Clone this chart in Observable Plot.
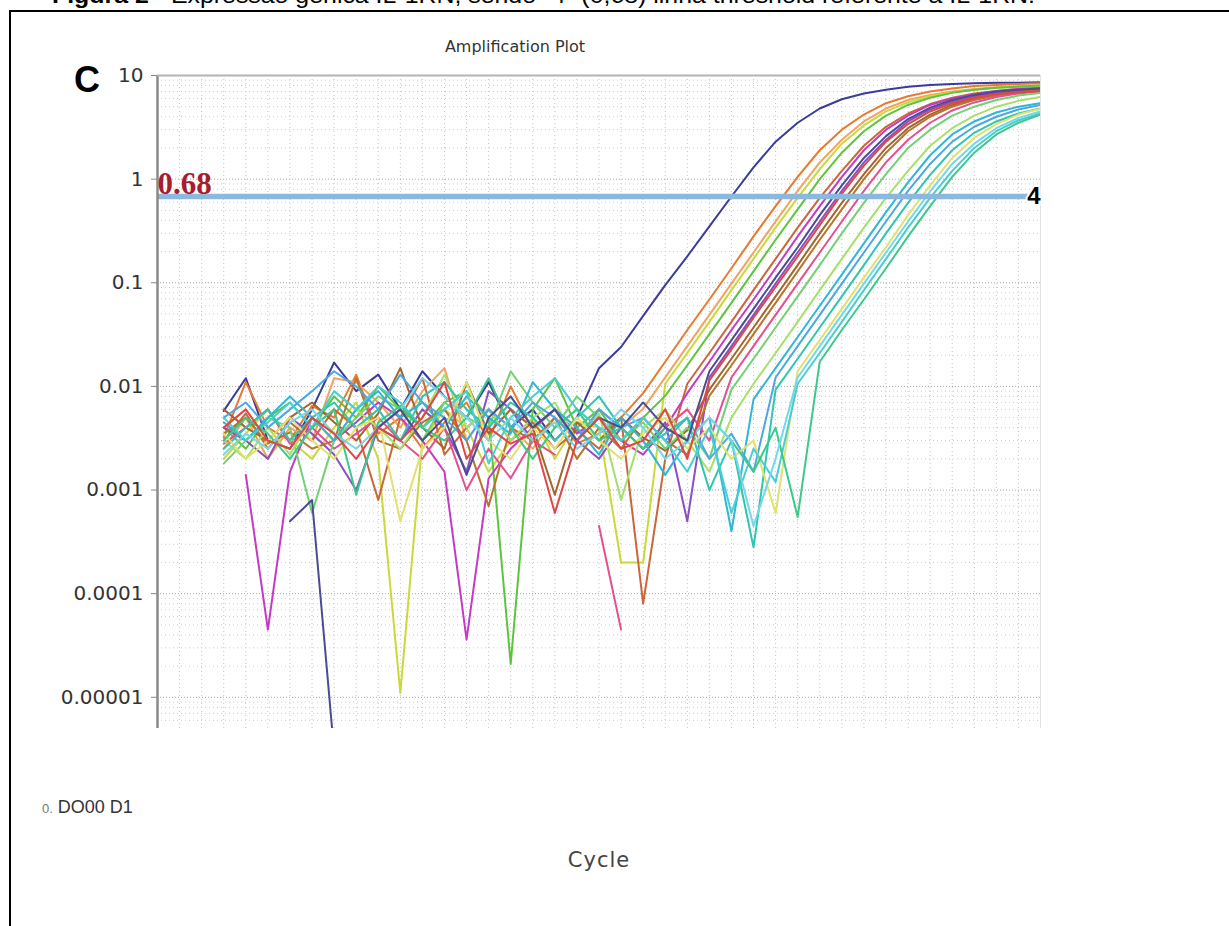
<!DOCTYPE html>
<html><head><meta charset="utf-8">
<script src="https://cdn.jsdelivr.net/npm/d3@7"></script>
<script src="https://cdn.jsdelivr.net/npm/@observablehq/plot@0.6"></script>
<style>
html,body{margin:0;padding:0;background:#fff;}
#page{position:relative;width:1229px;height:926px;overflow:hidden;background:#fff;font-family:"Liberation Sans",Arial,sans-serif;}
#frame{position:absolute;left:9px;top:10px;width:1300px;height:1000px;border-left:2px solid #000;border-top:2px solid #000;}
#caption{position:absolute;left:52px;top:-15px;font-size:22px;line-height:1;white-space:nowrap;color:#000;transform-origin:0 0;}
#panel{position:absolute;left:74px;top:62px;font-size:36px;line-height:1;font-weight:bold;color:#000;}
#title{position:absolute;left:515px;top:39px;transform:translateX(-50%);font-family:"DejaVu Sans";font-size:16px;line-height:1;color:#333;white-space:nowrap;}
#note{position:absolute;left:42px;top:798px;font-size:18px;line-height:1;color:#333;white-space:nowrap;}
#note small{font-size:13px;color:#777;}
#xlabel{position:absolute;left:599px;top:850px;transform:translateX(-50%);font-family:"DejaVu Sans";font-size:21px;line-height:1;letter-spacing:1px;color:#444;}
#chart{position:absolute;left:0;top:0;}
</style></head>
<body>
<div id="page">
  <div id="chart"></div>
  <div id="frame"></div>
  <div id="caption"><span id="capspan"><b>Figura 2</b> - Expressão gênica IL-1RN, sendo "4" (0,68) linha threshold referente a IL-1RN.</span></div>
  <div id="panel">C</div>
  <div id="title">Amplification Plot</div>
  <div id="note"><small>0.</small> DO00 D1</div>
  <div id="xlabel">Cycle</div>
</div>
<script>
// ---- data ----
const firstCycle = 3;
const yTickValues = [1e-5, 1e-4, 1e-3, 1e-2, 1e-1, 1, 10];
const yTickLabels = ["0.00001", "0.0001", "0.001", "0.01", "0.1", "1", "10"];
const threshold = 0.68;
const thresholdLabel = "0.68";
const thresholdTarget = "4";

const w01 = [5.8e-3,1.2e-2,3e-3,2.5e-3,6e-3,1.7e-2,9e-3,1.3e-2,6e-3,1.4e-2,8e-3,5e-3,1.1e-2,4e-3,6e-3,3e-3,5e-3,
  1.5e-2,2.4e-2,4.8e-2,9.5e-2,.18,.35,.68,1.3,2.3,3.5,4.8,5.9,6.7,7.3,7.8,8.1,8.3,8.4,8.5,8.5,8.6];
const w02 = [3.2e-3,1.1e-2,4e-3,3e-3,6.5e-3,5e-3,1.3e-2,3.5e-3,5e-3,2.5e-3,4.5e-3,7e-3,3e-3,1e-2,3.8e-3,6e-3,2.8e-3,3.5e-3,5e-3,
  8.6e-3,1.73e-2,3.5e-2,6.9e-2,.138,.28,.55,1.05,1.9,3,4.2,5.4,6.3,7,7.5,7.9,8.1,8.3,8.4];
const w03 = [2.5e-3,5e-3,2e-3,4e-3,3e-3,1.2e-2,1.1e-2,7e-3,4e-3,9e-3,1.5e-2,3e-3,6e-3,4e-3,2.5e-3,5e-3,3e-3,6e-3,4e-3,
  6.1e-3,1.22e-2,2.45e-2,4.9e-2,9.8e-2,.196,.39,.77,1.45,2.4,3.6,4.8,5.8,6.5,7,7.4,7.7,7.9,8];
const w04 = [2e-3,3.5e-3,6e-3,3e-3,2e-3,4e-3,7e-3,2e-3,1.1e-5,3e-3,6e-3,4e-3,1.5e-3,3e-3,5e-3,2e-3,4.5e-3,4e-3,2e-4,2e-4,
  1.06e-2,2.1e-2,4.2e-2,8.5e-2,.17,.34,.66,1.25,2.2,3.3,4.5,5.5,6.3,6.9,7.3,7.6,7.8,7.9];
const w05 = [4e-3,2.5e-3,5e-3,7e-3,4e-3,8e-3,5e-3,1e-2,6e-3,4e-3,7e-3,9e-3,5e-3,2.1e-5,6e-3,1.2e-2,4e-3,6e-3,3e-3,5e-3,
  8.1e-3,1.6e-2,3.2e-2,6.4e-2,.129,.26,.51,1,1.8,2.9,4.1,5.2,6.1,6.8,7.3,7.6,7.8,8];
const w06 = [3e-3,5.5e-3,2.5e-3,4.5e-3,3e-3,6e-3,4e-3,8e-4,5e-3,1.2e-2,2.2e-3,4e-3,6e-3,3e-3,4.5e-3,2.5e-3,3.8e-3,2.5e-3,5e-3,8e-5,2e-3,
  1.06e-2,2.1e-2,4.2e-2,8.5e-2,.17,.34,.66,1.2,2.1,3.2,4.3,5.3,6.1,6.7,7.1,7.4,7.6];
const w07 = [null,1.4e-3,4.5e-5,1.5e-3,5e-3,3e-3,4.5e-3,7e-3,5e-3,3e-3,1.5e-3,3.6e-5,1.3e-3,2.5e-3,4e-3,6e-3,3.5e-3,5e-3,3e-3,2.2e-3,4e-3,
  8.6e-3,1.73e-2,3.5e-2,6.9e-2,.138,.28,.55,1.05,1.9,3,4.1,5.2,6,6.6,7.1,7.4,7.6];
const w08 = [4e-3,3e-3,2e-3,5e-3,3.5e-3,2.2e-3,1e-3,4e-3,3e-3,6e-3,4e-3,1.5e-3,9e-3,6e-3,3e-3,5e-3,3e-3,2e-3,4e-3,2.5e-3,4.5e-3,5e-4,
  1.22e-2,2.45e-2,4.9e-2,9.8e-2,.196,.39,.77,1.45,2.4,3.6,4.7,5.6,6.3,6.8,7.1,7.3];
const w09 = [6e-3,4e-3,3e-3,5e-3,7e-3,4.5e-3,3e-3,5.5e-3,1.5e-2,4e-3,2.5e-3,1.1e-2,3.5e-3,6e-3,4e-3,9e-4,4.5e-3,3e-3,5e-3,3.2e-3,2.4e-3,3.8e-3,
  9.3e-3,1.85e-2,3.7e-2,7.4e-2,.148,.3,.59,1.12,2,3.1,4.2,5.2,6,6.6,7,7.3];
const w10 = [3.5e-3,5e-3,2.8e-3,3.6e-3,2.5e-3,3e-3,1.2e-2,3e-3,2.5e-3,4.5e-3,6e-3,3e-3,7e-4,4e-3,3e-3,5e-3,2e-3,4e-3,2.5e-3,5e-3,3e-3,2.2e-3,
  8.1e-3,1.6e-2,3.2e-2,6.4e-2,.129,.26,.51,1,1.8,2.9,4,5,5.8,6.4,6.9,7.2];
const w11 = [2.8e-3,4e-3,6e-3,2.8e-3,4e-3,2.5e-3,3.5e-3,5e-3,3e-3,2e-3,4e-3,1e-3,2.5e-3,1.3e-3,3e-3,2.2e-3,null,4.5e-4,4.5e-5,null,4e-3,6e-3,3e-3,
  1.22e-2,2.45e-2,4.9e-2,9.8e-2,.196,.39,.77,1.45,2.4,3.5,4.6,5.5,6.2,6.7,7];
const w12 = [1.8e-3,3e-3,5e-3,4e-3,6e-4,3e-3,5e-3,8e-3,6e-3,3e-3,7e-3,5e-3,4e-3,1.4e-2,7e-3,4e-3,8e-3,5e-3,3e-3,4.5e-3,2.5e-3,4e-3,2e-3,
  9.3e-3,1.85e-2,3.7e-2,7.4e-2,.148,.3,.59,1.12,2,3,4.1,5,5.8,6.4,6.8];
const w13 = [3e-3,2e-3,4e-3,2.2e-3,5e-3,3e-3,6e-3,4e-3,2.5e-3,5e-3,1.3e-2,4e-3,6e-3,3e-3,5e-3,7e-3,3e-3,5.5e-3,8e-4,4e-3,6e-3,3e-3,1.5e-3,5e-3,
  1.06e-2,2.1e-2,4.2e-2,8.5e-2,.17,.34,.66,1.2,2.1,3.1,4.1,5,5.7,6.2];
const w14 = [4.5e-3,3e-3,5e-3,8e-3,5e-3,3e-3,6e-3,9e-3,5e-3,7e-3,4e-3,8e-3,5e-3,3.5e-3,1.1e-2,6e-3,4e-3,2.2e-3,5e-3,3e-3,1.4e-3,3e-3,5e-3,4e-4,
  7.5e-3,1.5e-2,3e-2,6e-2,.12,.24,.48,.93,1.7,2.7,3.6,4.4,5,5.4];
const w15 = [5e-3,7e-3,4e-3,6e-3,9e-3,1.4e-2,1e-2,6e-3,1.3e-2,7e-3,5e-3,3e-3,6e-3,4e-3,7e-3,5e-3,3e-3,6e-3,4e-3,5e-3,3e-3,5e-3,2e-3,3.5e-3,1.5e-3,
  1.22e-2,2.45e-2,4.9e-2,9.8e-2,.196,.39,.77,1.4,2.3,3.2,4,4.7,5.2];
const w16 = [2.5e-3,4e-3,6e-3,3e-3,5e-3,7e-3,4e-3,6e-3,3e-3,8e-3,1.1e-2,6e-3,4e-3,7e-3,5e-3,3e-3,5e-3,8e-3,4e-3,2.5e-3,3.5e-3,5e-3,1e-3,3e-3,2.8e-4,
  9.3e-3,1.85e-2,3.7e-2,7.4e-2,.148,.3,.59,1.1,1.9,2.8,3.6,4.3,4.8];
const w17 = [3.5e-3,2e-3,3e-3,5e-3,3e-3,2e-3,4e-3,5e-3,5e-4,2.5e-3,4e-3,1.1e-2,3e-3,2e-3,4e-3,2.5e-3,5e-3,3e-3,2e-3,3.5e-3,5e-3,2.5e-3,4e-3,2e-3,3e-3,6e-4,
  1.4e-2,2.8e-2,5.6e-2,.112,.22,.45,.87,1.6,2.5,3.4,4.2,4.8];
const w18 = [5e-3,3e-3,4.5e-3,7e-3,4e-3,9e-3,6e-3,1e-2,7e-3,4e-3,6e-3,9e-3,1.8e-3,5e-3,8e-3,1.2e-2,6e-3,4e-3,3e-3,5e-3,3e-3,1.5e-3,4e-3,6e-4,2.5e-3,1.2e-3,
  1.06e-2,2.1e-2,4.2e-2,8.5e-2,.17,.34,.66,1.2,2,2.9,3.7,4.3];
const w19 = [3e-3,5e-3,3.5e-3,2e-3,4e-3,6e-3,9e-4,4.5e-3,6.5e-3,4e-3,3e-3,5e-3,1.2e-2,4e-3,2e-3,4e-3,6e-3,3e-3,4e-3,2.5e-3,4e-3,3e-3,5e-3,3e-3,1.5e-3,4e-3,5.5e-4,
  1.73e-2,3.5e-2,6.9e-2,.138,.28,.55,1.05,1.8,2.7,3.5,4.2];
const w20 = [2.2e-3,3.5e-3,2.5e-3,4.5e-3,6e-3,3.5e-3,2.5e-3,4e-3,6e-3,1.2e-2,8e-3,5e-3,3e-3,5e-3,3e-3,4.5e-3,2.5e-3,3.5e-3,6e-3,4e-3,2e-3,3e-3,5e-3,3e-3,4.5e-4,2e-3,
  1.22e-2,2.45e-2,4.9e-2,9.8e-2,.196,.39,.76,1.4,2.2,3.1,3.9,4.5];
const w21 = [null,null,null,5e-4,8e-4,3e-6,null,4e-3,6e-3,3e-3,5e-3,1.4e-3,5e-3,8e-3,4e-3,6e-3,3e-3,5e-3,4e-3,7e-3,4e-3,3e-3,
  1.4e-2,2.8e-2,5.6e-2,.112,.22,.45,.87,1.6,2.6,3.8,4.9,5.8,6.5,7,7.3,7.5];
const w22 = [4e-3,6e-3,3e-3,2.5e-3,5e-3,3.5e-3,2e-3,4e-3,3e-3,5e-3,1.1e-2,2e-3,4e-3,2.8e-3,3.5e-3,6e-4,3e-3,5e-3,2.5e-3,3e-3,6e-3,2e-3,
  1.14e-2,2.28e-2,4.6e-2,9.1e-2,.18,.36,.72,1.35,2.3,3.4,4.5,5.4,6.1,6.6,6.9,7.1];

const wells = [w01,w02,w03,w04,w05,w06,w07,w08,w09,w10,w11,w12,w13,w14,w15,w16,w17,w18,w19,w20,w21,w22];
const wellColors = ["#3b3b9b","#e8792e","#f2a35e","#c9d93a","#5dc43f","#c9663b","#c53ac5","#8b4fc0","#a2652b","#b8742e","#e3508e",
  "#74d074","#a6e06c","#2fb6d8","#4ea6e2","#2ec6ae","#e2e06e","#46cfd2","#3cc88a","#76d6ea","#4b4b94","#e04646"];

// ---- table for Plot ----
const rows = wells.flatMap((vals, k) => vals.map((v, i) => ({well: k, cycle: firstCycle + i, value: v, color: wellColors[k]})));
const labelOf = new Map(yTickValues.map((v, i) => [v, yTickLabels[i]]));
const minorY = d3.range(-6, 1).flatMap(e => d3.range(2, 10).map(m => m * Math.pow(10, e))).filter(v => v > 5e-6 && v < 10);

const chart = Plot.plot({
  width: 1229, height: 926,
  marginLeft: 157, marginRight: 189, marginTop: 75, marginBottom: 198,
  x: {domain: [0, 40], axis: null},
  y: {type: "log", domain: [5e-6, 10], axis: null},
  color: {type: "identity"},
  style: {fontFamily: "DejaVu Sans", background: "transparent"},
  marks: [
    Plot.gridX(d3.range(0, 41), {stroke: "#c4c4c4", strokeOpacity: 1, strokeDasharray: "1,3"}),
    Plot.gridY(minorY, {stroke: "#cdcdcd", strokeOpacity: 1, strokeDasharray: "1,3"}),
    Plot.gridY(yTickValues, {stroke: "#a8a8a8", strokeOpacity: 1, strokeDasharray: "1,2"}),
    Plot.ruleX([40], {stroke: "#e2e2e2", strokeWidth: 1}),
    Plot.line(rows, {x: "cycle", y: "value", z: "well", stroke: "color", strokeWidth: 2, clip: true}),
    Plot.ruleY([threshold], {stroke: "#8db8de", strokeWidth: 5.5}),
    Plot.ruleX([0], {stroke: "#8a8a8a", strokeWidth: 2.5}),
    Plot.ruleY([10], {stroke: "#b4b4b4", strokeWidth: 2}),
    Plot.axisY(yTickValues, {label: null, tickFormat: d => labelOf.get(d), tickSize: 6, tickPadding: 8, fontSize: 20, fill: "#333", stroke: "#888"}),
    Plot.text([threshold], {x: 0, y: d => d, text: () => thresholdLabel, textAnchor: "start", lineAnchor: "bottom", dy: -2,
      fontFamily: "Liberation Serif", fontWeight: "bold", fontSize: 31, fill: "#a81c30"}),
    Plot.text([threshold], {x: 40, y: d => d, text: () => thresholdTarget, textAnchor: "end", lineAnchor: "middle",
      fontFamily: "Liberation Sans", fontWeight: "bold", fontSize: 24, fill: "#000", stroke: "#fff", strokeWidth: 4})
  ]
});
document.getElementById("chart").appendChild(chart);

// stretch the caption to its width in the reference
const cap = document.getElementById("capspan");
const w = cap.getBoundingClientRect().width;
document.getElementById("caption").style.transform = `scaleX(${983 / w})`;
</script>
</body></html>
